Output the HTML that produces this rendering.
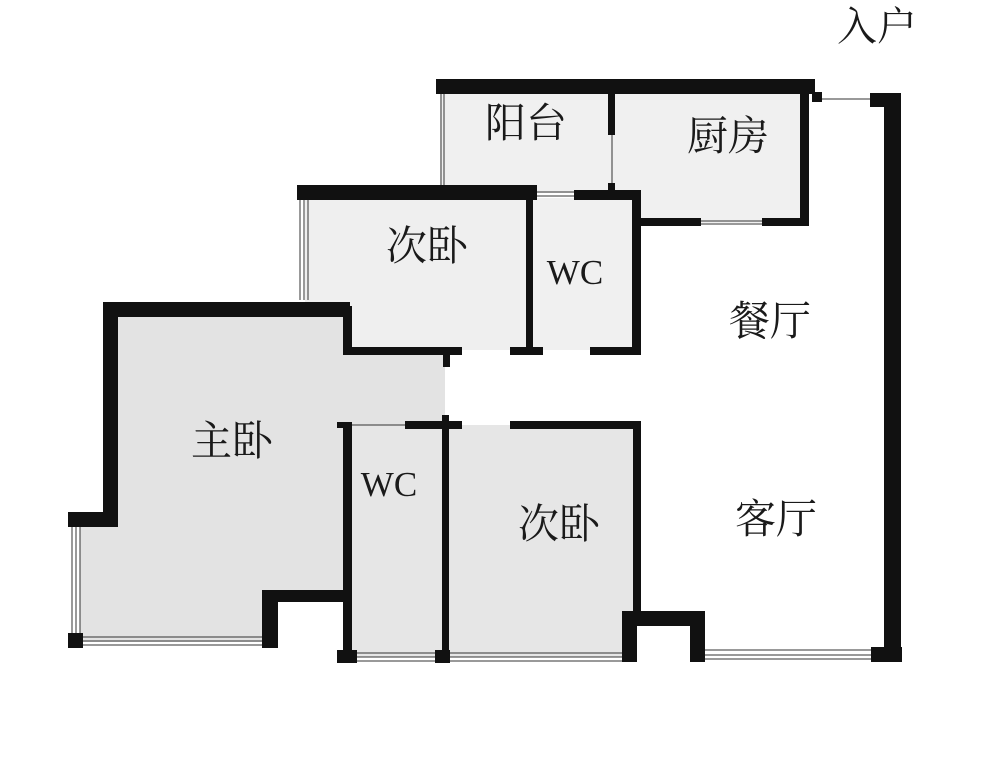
<!DOCTYPE html>
<html><head><meta charset="utf-8"><style>
html,body{margin:0;padding:0;background:#fff;width:1000px;height:774px;overflow:hidden}
svg{display:block}
text{font-family:"Liberation Serif","Noto Serif CJK SC",serif;fill:#1a1a1a}
</style></head><body>
<svg width="1000" height="774" viewBox="0 0 1000 774" xmlns="http://www.w3.org/2000/svg">
<rect x="440" y="93" width="172" height="100" fill="#f0f0f0"/>
<rect x="612" y="93" width="192" height="130" fill="#f0f0f0"/>
<rect x="305" y="198" width="225" height="152" fill="#efefef"/>
<rect x="530" y="198" width="106" height="152" fill="#f0f0f0"/>
<polygon points="115,315 348,315 348,352 445,352 445,425 348,425 348,595 268,595 268,642 80,642 80,522 115,522" fill="#e3e3e3"/>
<rect x="348" y="425" width="97" height="232" fill="#e6e6e6"/>
<rect x="445" y="425" width="192" height="232" fill="#e6e6e6"/>
<g fill="#111">
<rect x="436" y="79" width="379" height="15"/>
<rect x="812" y="92" width="10" height="10"/>
<rect x="870" y="93" width="31" height="14"/>
<rect x="884" y="93" width="17" height="569"/>
<rect x="800" y="93" width="9" height="132"/>
<rect x="640" y="218" width="61" height="8"/>
<rect x="762" y="218" width="47" height="8"/>
<rect x="608" y="93" width="7" height="42"/>
<rect x="608" y="183" width="7" height="12"/>
<rect x="297" y="185" width="240" height="15"/>
<rect x="574" y="190" width="67" height="10"/>
<rect x="436" y="185" width="8" height="10"/>
<rect x="526" y="195" width="7" height="160"/>
<rect x="632" y="190" width="9" height="165"/>
<rect x="344" y="347" width="118" height="8"/>
<rect x="510" y="347" width="33" height="8"/>
<rect x="590" y="347" width="51" height="8"/>
<rect x="443" y="353" width="7" height="14"/>
<rect x="103" y="302" width="247" height="15"/>
<rect x="343" y="306" width="9" height="49"/>
<rect x="103" y="302" width="15" height="225"/>
<rect x="68" y="512" width="50" height="15"/>
<rect x="68" y="633" width="15" height="15"/>
<rect x="262" y="590" width="16" height="58"/>
<rect x="262" y="590" width="85" height="12"/>
<rect x="337" y="422" width="15" height="6"/>
<rect x="343" y="422" width="9" height="241"/>
<rect x="337" y="650" width="20" height="13"/>
<rect x="405" y="421" width="57" height="8"/>
<rect x="442" y="415" width="7" height="248"/>
<rect x="435" y="650" width="15" height="13"/>
<rect x="510" y="421" width="131" height="8"/>
<rect x="633" y="421" width="8" height="192"/>
<rect x="622" y="611" width="83" height="15"/>
<rect x="622" y="611" width="15" height="51"/>
<rect x="690" y="611" width="15" height="51"/>
<rect x="871" y="647" width="31" height="15"/>
</g>
<g stroke="#333" stroke-width="1" fill="none">
<line x1="822" y1="99" x2="870" y2="99"/>
<line x1="441" y1="94" x2="441" y2="185"/><line x1="444" y1="94" x2="444" y2="185"/>
<line x1="612" y1="135" x2="612" y2="183"/>
<line x1="701" y1="221" x2="762" y2="221"/><line x1="701" y1="224" x2="762" y2="224"/>
<line x1="537" y1="192" x2="574" y2="192"/><line x1="537" y1="196" x2="574" y2="196"/>
<line x1="300" y1="200" x2="300" y2="300"/><line x1="304" y1="200" x2="304" y2="300"/><line x1="308" y1="200" x2="308" y2="300"/>
<line x1="72" y1="527" x2="72" y2="633"/><line x1="76" y1="527" x2="76" y2="633"/><line x1="80" y1="527" x2="80" y2="633"/>
<line x1="83" y1="637" x2="262" y2="637"/><line x1="83" y1="641" x2="262" y2="641"/><line x1="83" y1="645" x2="262" y2="645"/>
<line x1="352" y1="425" x2="405" y2="425"/>
<line x1="357" y1="653" x2="435" y2="653"/><line x1="357" y1="657" x2="435" y2="657"/><line x1="357" y1="661" x2="435" y2="661"/>
<line x1="450" y1="653" x2="622" y2="653"/><line x1="450" y1="657" x2="622" y2="657"/><line x1="450" y1="661" x2="622" y2="661"/>
<line x1="705" y1="650" x2="871" y2="650"/><line x1="705" y1="655" x2="871" y2="655"/><line x1="705" y1="659" x2="871" y2="659"/>
</g>
<g font-size="41" text-anchor="middle">
<text x="877" y="40" font-size="40">入户</text>
<text x="526" y="137">阳台</text>
<text x="728" y="150">厨房</text>
<text x="427" y="260">次卧</text>
<text x="232" y="455">主卧</text>
<text x="770" y="335">餐厅</text>
<text x="559" y="538">次卧</text>
<text x="776" y="533">客厅</text>
<text x="575" y="284" font-size="35">WC</text>
<text x="389" y="496" font-size="35">WC</text>
</g>
</svg>
</body></html>
